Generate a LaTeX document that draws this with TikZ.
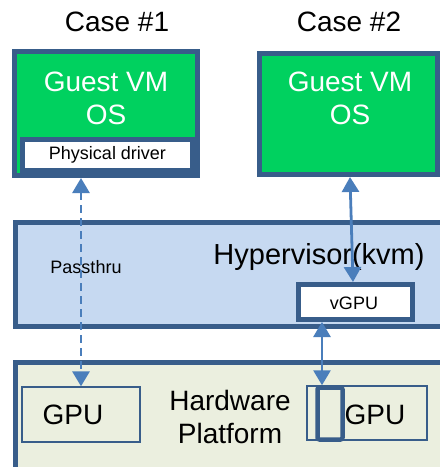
\documentclass[tikz,border=0pt]{standalone}
\usepackage{fontspec}
\setmainfont{Liberation Sans}
\usetikzlibrary{arrows.meta}
\definecolor{bordc}{HTML}{385D8A}
\definecolor{greenc}{HTML}{00D15F}
\definecolor{hypc}{HTML}{C6D9F1}
\definecolor{hwc}{HTML}{EBEFDF}
\definecolor{arrc}{HTML}{4A7EBB}
\tikzset{
  bigtxt/.style={font=\fontsize{28}{33}\selectfont, align=center, inner sep=0pt},
  smalltxt/.style={font=\fontsize{18}{21}\selectfont, inner sep=0pt},
  thickbox/.style={draw=bordc, line width=5pt, rectangle, inner sep=0pt},
  thinbox/.style={draw=bordc, line width=1.3pt, rectangle, inner sep=0pt},
  conn/.style={draw=arrc, line width=2.8pt, {Triangle[width=17pt 0 0,length=15pt 0 0]}-{Triangle[width=17pt 0 0,length=15pt 0 0]}},
  dashconn/.style={conn, dash pattern=on 8pt off 5pt}
}
\begin{document}
\begin{tikzpicture}[x=1pt,y=-1pt]
\path[use as bounding box, clip] (0,0) rectangle (440,467);
\fill[white] (0,0) rectangle (440,467);
% titles
\node[bigtxt] (case1) at (117,22) {Case \#1};
\node[bigtxt] (case2) at (349,22) {Case \#2};
% guest VMs
\node[thickbox, fill=greenc, minimum width=183pt, minimum height=124pt] (guest1) at (106,113.5) {};
\node[bigtxt, text=white] (g1t) at (106,98.5) {Guest VM\\OS};
\node[thickbox, fill=white, minimum width=170pt, minimum height=31pt] (pdrv) at (107.5,155) {};
\node[smalltxt] (pdrvt) at (pdrv.center) {Physical driver};
\node[thickbox, fill=greenc, minimum width=178pt, minimum height=121pt] (guest2) at (348.5,114) {};
\node[bigtxt, text=white] (g2t) at (350,98.5) {Guest VM\\OS};
% hypervisor
\node[thickbox, fill=hypc, minimum width=440pt, minimum height=104pt] (hyp) at (235.5,274.5) {};
\node[bigtxt, font=\fontsize{29}{33}\selectfont] (hypt) at (319,257) {Hypervisor(kvm)};
\node[smalltxt] (pass) at (86,267) {Passthru};
\node[thickbox, fill=white, minimum width=114pt, minimum height=35pt] (vgpu) at (355.5,302) {};
\node[smalltxt] (vgput) at (354,303) {vGPU};
% hardware
\node[thickbox, fill=hwc, minimum width=440pt, minimum height=140pt] (hw) at (235.5,432.5) {};
\node[thinbox, minimum width=118pt, minimum height=55pt] (gpu1) at (81,414.5) {};
\node[bigtxt] (gpu1t) at (73,415) {GPU};
\node[bigtxt] (hwt) at (230,416.5) {Hardware\\Platform};
\node[thinbox, minimum width=120pt, minimum height=54pt] (gpu2) at (367,413) {};
\node[bigtxt] (gpu2t) at (375,415) {GPU};
\node[draw=bordc, line width=4.5pt, rounded corners=2pt, rectangle, inner sep=0pt, minimum width=25pt, minimum height=52pt] (slim) at (330,413.5) {};
% connectors
\coordinate (gp) at (322,0);
\draw[dashconn] (guest1.south -| gpu1.north) -- (gpu1.north);
\draw[conn] ([xshift=1.5pt]guest2.south) -- ([xshift=-2.5pt]vgpu.north);
\draw[conn] (vgpu.south -| gp) -- (slim.north -| gp);
\end{tikzpicture}
\end{document}
